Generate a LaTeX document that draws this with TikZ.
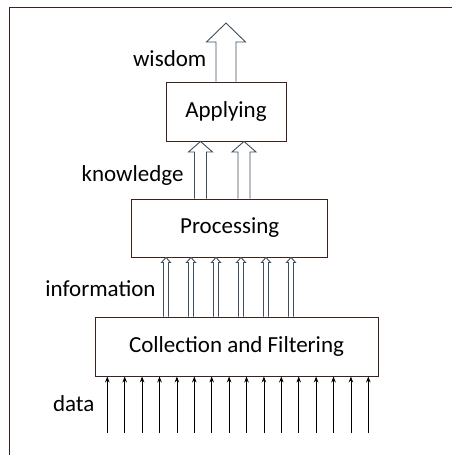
\documentclass[tikz,border=0pt]{standalone}
\usepackage{fontspec}
\setmainfont{Carlito}
\usetikzlibrary{arrows.meta, calc}

\definecolor{rimbrown}{RGB}{62,34,28}
\definecolor{pipegray}{RGB}{62,78,92}

% hollow block arrow: base, tip, half shaft, half head, head length
\newcommand{\hollowarrow}[5]{%
	\draw[pipe] ($(#1)+(-#3,0)$) -- ($(#2)+(-#3,#5)$) -- ($(#2)+(-#4,#5)$) -- (#2)
		-- ($(#2)+(#4,#5)$) -- ($(#2)+(#3,#5)$) -- ($(#1)+(#3,0)$);}

\begin{document}
\begin{tikzpicture}[x=1pt, y=-1pt,
		box/.style={draw=rimbrown, line width=0.9pt, fill=white, inner sep=0pt,
			font=\fontsize{23}{27}\selectfont},
		lbl/.style={anchor=base, inner sep=0pt, font=\fontsize{23}{27}\selectfont},
		pipe/.style={draw=pipegray, line width=0.9pt, fill=white},
		feed/.style={-{Stealth[length=6pt, width=4.5pt]}, line width=0.8pt}]
	\useasboundingbox (0,0) rectangle (452,455);
	\clip (0,0) rectangle (452,455);
	% outer frame, runs off the right and bottom
	\draw[rimbrown, line width=1pt] (9,7) rectangle (480,480);

	\node[box, minimum width=120pt, minimum height=59pt] (apply) at (226,111.5) {Applying};
	\node[box, minimum width=196pt, minimum height=58pt] (proc) at (229.7,228) {Processing};
	\node[box, minimum width=283pt, minimum height=59pt] (coll) at (236.5,346.5) {Collection and Filtering};

	% wisdom
	\coordinate (wtip) at (226,23);
	\coordinate (wbase) at (apply.north -| wtip);
	\hollowarrow{wbase}{wtip}{10}{19.5}{19}

	% knowledge
	\foreach \x [count=\i] in {200.5,244} {
		\coordinate (kbase\i) at (\x,0 |- proc.north);
		\coordinate (ktip\i) at (\x,0 |- apply.south);
		\hollowarrow{kbase\i}{ktip\i}{6}{12}{10.5}
	}

	% information
	\foreach \i in {0,...,5} {
		\coordinate (ibase\i) at (166+25*\i,0 |- coll.north);
		\coordinate (itip\i) at (166+25*\i,0 |- proc.south);
		\hollowarrow{ibase\i}{itip\i}{2.5}{4.5}{5}
	}

	% data
	\foreach \i in {0,...,15} {
		\coordinate (src\i) at (107.3+17.4*\i,433);
		\draw[feed] (src\i) -- (src\i |- coll.south);
	}

	\node[lbl] (wis) at (169.7,66.7) {wisdom};
	\node[lbl] (know) at (132.5,181) {knowledge};
	\node[lbl] (info) at (100.5,296) {information};
	\node[lbl] (dat) at (73.7,411) {data};
\end{tikzpicture}
\end{document}
